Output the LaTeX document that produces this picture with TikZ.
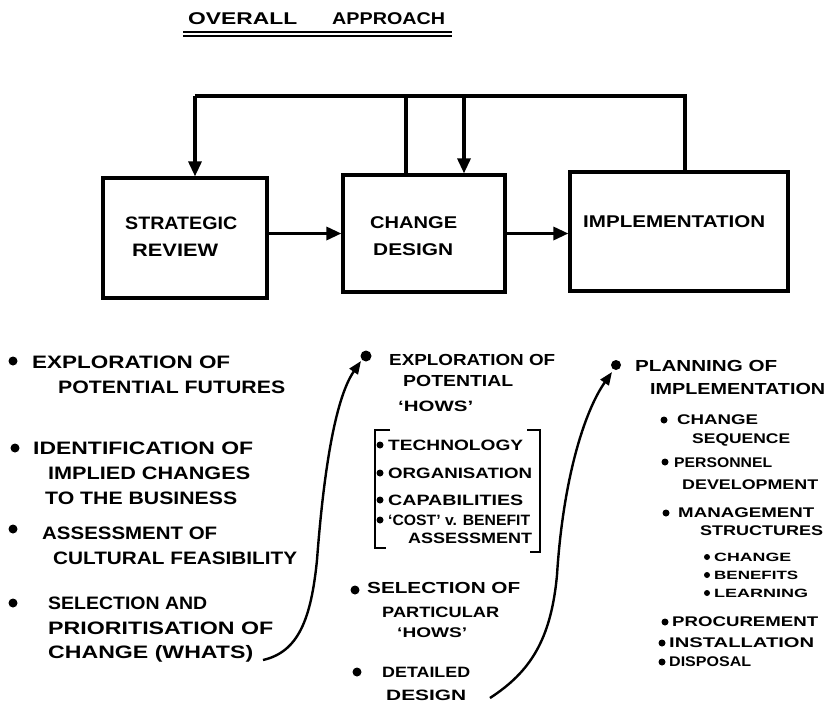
\documentclass[tikz,border=0pt]{standalone}
\usepackage{fontspec}
\usepackage{graphicx}
\setmainfont{Liberation Sans}
\usetikzlibrary{arrows.meta,calc}
% stretch a line of lettering to a given width, keeping its height
\newcommand{\hwfit}[2]{\resizebox{#1pt}{\height}{#2}}
\begin{document}
\begin{tikzpicture}[x=1pt,y=-1pt,
  hw/.style={anchor=west, inner sep=0pt, text depth=0pt},
  f18/.style={hw, font=\fontsize{18}{20}\selectfont\bfseries, text height=12.4pt},
  f17/.style={hw, font=\fontsize{17}{19}\selectfont\bfseries, text height=11.7pt},
  f16/.style={hw, font=\fontsize{16}{18}\selectfont\bfseries, text height=11pt},
  f15/.style={hw, font=\fontsize{15}{17}\selectfont\bfseries, text height=10.3pt},
  f14/.style={hw, font=\fontsize{14}{16}\selectfont\bfseries, text height=9.6pt},
  f12/.style={hw, font=\fontsize{12}{14}\selectfont\bfseries, text height=8.3pt},
  dot/.style={circle, fill=black, draw=none, inner sep=0pt, minimum size=#1},
  dot/.default=9pt,
  stage/.style={draw, line width=3.2pt, inner sep=0pt},
  conn/.style={line width=3.2pt},
  arr/.style={-{Triangle[length=15pt,width=13pt]}},
  flow/.style={line width=2.4pt, -{Triangle[length=13pt,width=10pt]}},
  brk/.style={line width=2.6pt}
]
\useasboundingbox (0,0) rectangle (825,702);
\fill[white] (0,0) rectangle (825,702);

% ---- title ----
\node[f17] (title) at (188,19) {\hwfit{109}{OVERALL}\hspace{35pt}\hwfit{113}{APPROACH}};
\draw[line width=1.5pt] ($(title.south west)+(-5,7)$) -- ($(title.south east)+(7,7)$);
\draw[line width=1.5pt] ($(title.south west)+(-5,11)$) -- ($(title.south east)+(7,11)$);

% ---- the three stages ----
\node[stage, minimum width=164pt, minimum height=120pt] (sr) at (185,238) {};
\node[stage, minimum width=162pt, minimum height=117pt] (cd) at (424,233.5) {};
\node[stage, minimum width=218pt, minimum height=119pt] (im) at (679,231.5) {};

\node[f18] (srA) at (125,223) {\hwfit{112}{STRATEGIC}};
\node[f18] (srB) at (132,250) {\hwfit{86}{REVIEW}};
\node[f17] (cdA) at (370,223) {\hwfit{87}{CHANGE}};
\node[f17] (cdB) at (373,250) {\hwfit{80}{DESIGN}};
\node[f17] (imA) at (583,222) {\hwfit{182}{IMPLEMENTATION}};

% forward flow
\draw[conn,arr] (sr.east |- cd.west) -- (cd.west);
\draw[conn,arr] (cd.east) -- (cd.east -| im.west);

% feedback loop over the top
\coordinate (fL) at (195,96);
\coordinate (fM) at (406,96);
\coordinate (fA) at (464,96);
\coordinate (fR) at (685,96);
\draw[conn] (fR |- im.north) -- (fR) -- (fL);
\draw[conn,arr] (fL) -- (fL |- sr.north);
\draw[conn] (fM |- cd.north) -- (fM);
\draw[conn,arr] (fA) -- (fA |- cd.north);

% ---- strategic review activities ----
\node[dot] (b1) at (13,361) {};
\node[f18] (l1a) at (32,362) {\hwfit{198}{EXPLORATION OF}};
\node[f18] (l1b) at (58,387) {\hwfit{227}{POTENTIAL FUTURES}};
\node[dot] (b2) at (15,448) {};
\node[f18] (l2a) at (33,448) {\hwfit{220}{IDENTIFICATION OF}};
\node[f18] (l2b) at (48,473) {\hwfit{202}{IMPLIED CHANGES}};
\node[f18] (l2c) at (45,498) {\hwfit{192}{TO THE BUSINESS}};
\node[dot] (b3) at (13,529) {};
\node[f18] (l3a) at (42,533) {\hwfit{175}{ASSESSMENT OF}};
\node[f18] (l3b) at (53,558) {\hwfit{244}{CULTURAL FEASIBILITY}};
\node[dot] (b4) at (13,603) {};
\node[f18] (l4a) at (48,603) {\hwfit{159}{SELECTION AND}};
\node[f18] (l4b) at (48,628) {\hwfit{225}{PRIORITISATION OF}};
\node[f18] (l4c) at (48,652) {\hwfit{205}{CHANGE (WHATS)}};

% ---- change design activities ----
\node[dot=11pt] (m1) at (366,356) {};
\node[f16] (m1a) at (389,360) {\hwfit{166}{EXPLORATION OF}};
\node[f16] (m1b) at (403,381) {\hwfit{110}{POTENTIAL}};
\node[f15] (m1c) at (398,406) {\hwfit{75}{`HOWS'}};

\node[dot=7pt] (k1) at (380,445) {};
\node[f15] (k1a) at (388,445) {\hwfit{135}{TECHNOLOGY}};
\node[dot=7pt] (k2) at (380,473) {};
\node[f15] (k2a) at (388,473) {\hwfit{144}{ORGANISATION}};
\node[dot=7pt] (k3) at (380,500) {};
\node[f15] (k3a) at (388,500) {\hwfit{135}{CAPABILITIES}};
\node[dot=7pt] (k4) at (380,520) {};
\node[f15] (k4a) at (388,520) {\hwfit{142}{`COST' v. BENEFIT}};
\node[f15] (k4b) at (408,538) {\hwfit{124}{ASSESSMENT}};
% brackets round the list
\draw[brk] (390,430) -- (375,430) -- (375,548) -- (386,548);
\draw[brk] (527,430) -- (540,430) -- (540,552) -- (530,552);

\node[dot=9pt] (m2) at (355,590) {};
\node[f16] (m2a) at (367,588) {\hwfit{153}{SELECTION OF}};
\node[f15] (m2b) at (382,612) {\hwfit{117}{PARTICULAR}};
\node[f14] (m2c) at (397,633) {\hwfit{70}{`HOWS'}};
\node[dot=9pt] (m3) at (357,672) {};
\node[f15] (m3a) at (382,672) {\hwfit{88}{DETAILED}};
\node[f15] (m3b) at (386,695) {\hwfit{80}{DESIGN}};

% ---- implementation activities ----
\node[dot=10pt] (r1) at (616,365) {};
\node[f16] (r1a) at (635,366) {\hwfit{142}{PLANNING OF}};
\node[f16] (r1b) at (650,389) {\hwfit{175}{IMPLEMENTATION}};

\node[dot=7pt] (s1) at (664,420) {};
\node[f14] (s1a) at (677,420) {\hwfit{81}{CHANGE}};
\node[f14] (s1b) at (692,439) {\hwfit{98}{SEQUENCE}};
\node[dot=7pt] (s2) at (665,462) {};
\node[f14] (s2a) at (674,463) {\hwfit{98}{PERSONNEL}};
\node[f14] (s2b) at (682,485) {\hwfit{136}{DEVELOPMENT}};
\node[dot=7pt] (s3) at (666,513) {};
\node[f14] (s3a) at (678,513) {\hwfit{136}{MANAGEMENT}};
\node[f14] (s3b) at (700,531) {\hwfit{123}{STRUCTURES}};
\node[dot=6pt] (n1) at (707,557) {};
\node[f12] (n1a) at (714,557) {\hwfit{77}{CHANGE}};
\node[dot=6pt] (n2) at (707,575) {};
\node[f12] (n2a) at (714,575) {\hwfit{84}{BENEFITS}};
\node[dot=6pt] (n3) at (707,593) {};
\node[f12] (n3a) at (714,593) {\hwfit{94}{LEARNING}};
\node[dot=7pt] (s4) at (665,622) {};
\node[f14] (s4a) at (672,622) {\hwfit{146}{PROCUREMENT}};
\node[dot=7pt] (s5) at (662,643) {};
\node[f14] (s5a) at (669,643) {\hwfit{145}{INSTALLATION}};
\node[dot=7pt] (s6) at (662,662) {};
\node[f14] (s6a) at (669,662) {\hwfit{82}{DISPOSAL}};

% ---- hand-over curves between the stages ----
\coordinate (c1s) at (263,660);
\coordinate (c1e) at (361,361);
\draw[flow] (c1s) .. controls (298,652) and (311,620) .. (317,560)
                 .. controls (323,480) and (334,400) .. (c1e);
\coordinate (c2s) at (490,698);
\coordinate (c2e) at (612,372);
\draw[flow] (c2s) .. controls (530,672) and (551,640) .. (557,575)
                 .. controls (563,480) and (584,412) .. (c2e);
\end{tikzpicture}
\end{document}
